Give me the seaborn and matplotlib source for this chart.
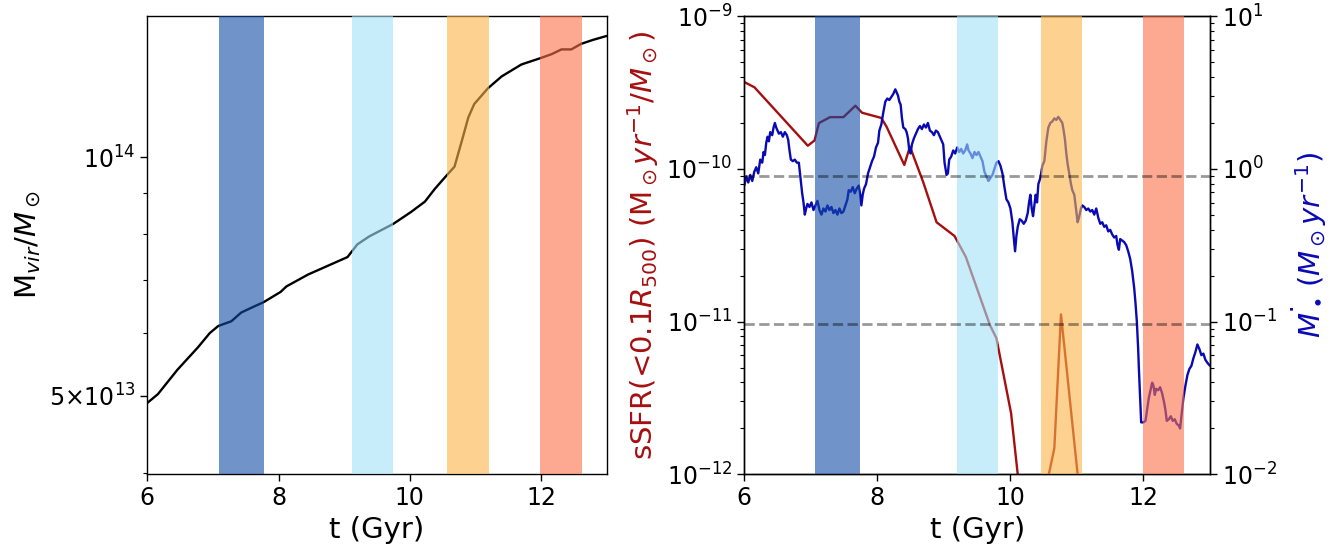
import numpy as np
import pandas as pd
import matplotlib
matplotlib.use("Agg")
import matplotlib.pyplot as plt
from matplotlib.ticker import FixedLocator, FixedFormatter, NullFormatter
import seaborn as sns

# ---- halo virial mass growth ----
t_mass = [6.00, 6.16, 6.46, 6.77, 6.95, 7.08, 7.28, 7.43, 7.61, 7.77, 8.03, 8.12,
          8.45, 8.75, 9.05, 9.20, 9.38, 9.75, 10.02, 10.23, 10.38, 10.56, 10.68,
          10.80, 10.89, 10.98, 11.19, 11.40, 11.70, 11.99, 12.16, 12.31, 12.46,
          12.61, 12.79, 13.00]
log_mvir = [13.690, 13.701, 13.732, 13.760, 13.778, 13.787, 13.793, 13.804, 13.811,
            13.817, 13.830, 13.837, 13.852, 13.863, 13.874, 13.890, 13.900, 13.916,
            13.931, 13.944, 13.960, 13.977, 13.988, 14.023, 14.050, 14.067, 14.087,
            14.102, 14.117, 14.125, 14.130, 14.136, 14.136, 14.143, 14.148, 14.153]
mass_ticks = [5e13, 1e14]
mass_tick_labels = [r"$5{\times}10^{13}$", r"$10^{14}$"]

# ---- specific star formation rate inside 0.1 R500 ----
t_ssfr = [6.00, 6.154, 6.955, 7.055, 7.122, 7.289, 7.490, 7.670, 7.770, 8.058, 8.138,
          8.405, 8.49, 8.69, 8.89, 9.16, 9.33, 9.69, 9.79, 10.01, 10.26, 10.35,
          10.45, 10.66, 10.76, 11.01, 11.10, 13.00]
log_ssfr = [-9.432, -9.467, -9.849, -9.815, -9.701, -9.662, -9.662, -9.587, -9.633,
            -9.667, -9.724, -9.975, -9.855, -10.088, -10.35, -10.44, -10.577, -11.021,
            -11.11, -11.60, -12.60, -13.0, -12.26, -11.83, -10.953, -12.0, -12.38, -13.0]

# ---- black hole accretion rate ----
t_bh = [6.00, 6.03, 6.06, 6.09, 6.12, 6.15, 6.18, 6.21, 6.24, 6.27, 6.29, 6.31, 6.33,
        6.35, 6.37, 6.39, 6.42, 6.44, 6.46, 6.48, 6.50, 6.52, 6.55, 6.58, 6.61, 6.64,
        6.66, 6.68, 6.70, 6.73, 6.76, 6.79, 6.82, 6.85, 6.87, 6.89, 6.91, 6.93, 6.95,
        6.98, 7.01, 7.04, 7.07, 7.10, 7.13, 7.16, 7.19, 7.22, 7.25, 7.28, 7.31, 7.34,
        7.37, 7.40, 7.43, 7.46, 7.49, 7.52, 7.55, 7.57, 7.60, 7.63, 7.66, 7.69, 7.72,
        7.74, 7.76, 7.78, 7.80, 7.83, 7.86, 7.89, 7.92, 7.95, 7.98, 8.01, 8.03, 8.06,
        8.09, 8.12, 8.15, 8.18, 8.21, 8.24, 8.27, 8.29, 8.31, 8.33, 8.35, 8.37, 8.39,
        8.42, 8.44, 8.46, 8.48, 8.50, 8.52, 8.55, 8.58, 8.61, 8.64, 8.67, 8.70, 8.73,
        8.76, 8.79, 8.82, 8.85, 8.88, 8.91, 8.94, 8.97, 8.99, 9.01, 9.04, 9.06, 9.08,
        9.11, 9.14, 9.17, 9.20, 9.23, 9.26, 9.29, 9.32, 9.35, 9.37, 9.40, 9.43, 9.46,
        9.49, 9.52, 9.55, 9.58, 9.61, 9.64, 9.67, 9.70, 9.73, 9.76, 9.79, 9.82, 9.85,
        9.88, 9.91, 9.94, 9.97, 10.00, 10.03, 10.05, 10.07, 10.09, 10.11, 10.14, 10.17,
        10.20, 10.23, 10.26, 10.28, 10.30, 10.32, 10.34, 10.36, 10.38, 10.40, 10.42,
        10.45, 10.48, 10.51, 10.54, 10.57, 10.60, 10.63, 10.66, 10.69, 10.72, 10.75,
        10.78, 10.80, 10.82, 10.84, 10.86, 10.88, 10.91, 10.93, 10.96, 10.99, 11.01,
        11.03, 11.06, 11.08, 11.11, 11.14, 11.17, 11.20, 11.23, 11.26, 11.29, 11.32,
        11.35, 11.38, 11.41, 11.44, 11.47, 11.50, 11.53, 11.56, 11.59, 11.61, 11.63,
        11.65, 11.68, 11.71, 11.74, 11.77, 11.80, 11.83, 11.86, 11.88, 11.90, 11.92,
        11.93, 11.95, 11.965, 12.00, 12.03, 12.06, 12.08, 12.10, 12.13, 12.15, 12.17,
        12.19, 12.22, 12.25, 12.28, 12.31, 12.33, 12.35, 12.38, 12.41, 12.44, 12.47,
        12.50, 12.53, 12.55, 12.57, 12.60, 12.63, 12.66, 12.69, 12.72, 12.75, 12.78,
        12.81, 12.84, 12.87, 12.90, 12.93, 12.96, 13.00]
log_mdot = [-0.11, -0.05, -0.09, -0.04, -0.08, -0.02, 0.01, -0.03, 0.06, 0.04, 0.11,
            0.09, 0.17, 0.21, 0.18, 0.24, 0.22, 0.27, 0.30, 0.27, 0.25, 0.23, 0.24,
            0.21, 0.24, 0.22, 0.19, 0.12, 0.06, 0.05, 0.06, 0.04, 0.04, -0.08, -0.16,
            -0.22, -0.30, -0.26, -0.23, -0.25, -0.22, -0.27, -0.24, -0.21, -0.27, -0.30,
            -0.26, -0.28, -0.24, -0.27, -0.25, -0.29, -0.27, -0.30, -0.26, -0.29, -0.28,
            -0.24, -0.20, -0.14, -0.15, -0.12, -0.16, -0.13, -0.11, -0.16, -0.24, -0.17,
            -0.13, -0.10, -0.03, 0.01, 0.05, 0.08, 0.14, 0.17, 0.25, 0.29, 0.37, 0.44,
            0.46, 0.45, 0.47, 0.49, 0.52, 0.50, 0.48, 0.44, 0.42, 0.33, 0.27, 0.26, 0.24,
            0.20, 0.12, 0.10, 0.16, 0.20, 0.23, 0.26, 0.28, 0.26, 0.29, 0.27, 0.30, 0.25,
            0.24, 0.22, 0.25, 0.24, 0.21, 0.18, 0.16, 0.04, -0.04, -0.03, 0.06, 0.08,
            0.12, 0.10, 0.14, 0.11, 0.13, 0.10, 0.12, 0.16, 0.12, 0.10, 0.07, 0.11, 0.09,
            0.11, 0.08, 0.05, -0.02, -0.05, -0.08, -0.06, -0.04, 0.00, 0.04, 0.05, 0.02,
            -0.03, -0.12, -0.20, -0.22, -0.26, -0.35, -0.45, -0.54, -0.44, -0.38, -0.33,
            -0.34, -0.36, -0.34, -0.29, -0.22, -0.17, -0.26, -0.31, -0.24, -0.17, -0.22,
            -0.10, -0.06, 0.02, 0.05, 0.18, 0.27, 0.30, 0.31, 0.33, 0.32, 0.34, 0.32,
            0.30, 0.25, 0.19, 0.10, 0.03, -0.02, -0.10, -0.14, -0.17, -0.28, -0.35,
            -0.32, -0.26, -0.24, -0.25, -0.27, -0.26, -0.28, -0.27, -0.30, -0.26, -0.32,
            -0.36, -0.35, -0.38, -0.37, -0.41, -0.40, -0.43, -0.45, -0.44, -0.50, -0.53,
            -0.46, -0.47, -0.48, -0.50, -0.54, -0.59, -0.67, -0.78, -0.88, -1.00, -1.18,
            -1.30, -1.50, -1.66, -1.66, -1.65, -1.56, -1.50, -1.46, -1.40, -1.42, -1.48,
            -1.44, -1.45, -1.43, -1.47, -1.53, -1.58, -1.65, -1.64, -1.62, -1.65, -1.64,
            -1.67, -1.68, -1.70, -1.62, -1.50, -1.42, -1.35, -1.31, -1.29, -1.24, -1.20,
            -1.15, -1.18, -1.22, -1.21, -1.25, -1.27, -1.29]

# ---- highlighted epochs (start, end in Gyr) ----
epochs_left = [(7.085, 7.77), (9.12, 9.75), (10.56, 11.20), (11.99, 12.62)]
epochs_right = [(7.07, 7.74), (9.19, 9.82), (10.46, 11.08), (11.99, 12.61)]
epoch_colors = ["#114ba5", "#a3e2f8", "#fdb548", "#fd7049"]

# reference accretion levels (Msun/yr)
mdot_levels = [0.9, 0.096]

sns.set_style("ticks")
plt.rcParams["font.family"] = ["DejaVu Sans"]
plt.rcParams["mathtext.fontset"] = "dejavusans"

RED = "#a50f0f"
BLUE = "#0a0ab4"
TICK_FS = 17
LAB_FS = 21
LW = 1.7

fig = plt.figure(figsize=(13.3, 5.45), dpi=100)
ax1 = fig.add_axes([0.1108, 0.1297, 0.3454, 0.8409])
ax2 = fig.add_axes([0.5596, 0.1297, 0.3502, 0.8409])

# left panel: virial mass
df_m = pd.DataFrame({"t": t_mass, "mvir": np.power(10.0, log_mvir)})
sns.lineplot(data=df_m, x="t", y="mvir", ax=ax1, color="black", lw=LW, zorder=2)
ax1.set_yscale("log")
ax1.set_xlim(6, 13)
ax1.set_ylim(3.98e13, 1.507e14)
ax1.yaxis.set_major_locator(FixedLocator(mass_ticks))
ax1.yaxis.set_major_formatter(FixedFormatter(mass_tick_labels))
ax1.yaxis.set_minor_locator(FixedLocator([4e13, 6e13, 7e13, 8e13, 9e13]))
ax1.yaxis.set_minor_formatter(NullFormatter())
for (a, b), c in zip(epochs_left, epoch_colors):
    ax1.axvspan(a, b, color=c, alpha=0.6, lw=0, zorder=3)
ax1.set_xlabel("t (Gyr)", fontsize=LAB_FS)
ax1.set_ylabel(r"M$_{vir}/M_\odot$", fontsize=LAB_FS)
ax1.set_xticks([6, 8, 10, 12])

# right panel: sSFR (left axis) and BH accretion rate (right axis)
df_s = pd.DataFrame({"t": t_ssfr, "ssfr": np.power(10.0, log_ssfr)})
sns.lineplot(data=df_s, x="t", y="ssfr", ax=ax2, color=RED, lw=LW, zorder=2)
ax2.set_yscale("log")
ax2.set_xlim(6, 13)
ax2.set_ylim(1e-12, 1e-9)
ax2.set_xticks([6, 8, 10, 12])
ax2.set_xlabel("t (Gyr)", fontsize=LAB_FS)
ax2.set_ylabel(r"sSFR(<0.1$R_{500}$) (M$_\odot yr^{-1}/M_\odot$)",
               fontsize=LAB_FS, color=RED)

ax3 = ax2.twinx()
df_b = pd.DataFrame({"t": t_bh, "mdot": np.power(10.0, log_mdot)})
sns.lineplot(data=df_b, x="t", y="mdot", ax=ax3, color=BLUE, lw=LW, zorder=2)
ax3.set_yscale("log")
ax3.set_ylim(1e-2, 1e1)
ax3.set_xlim(6, 13)
ax3.set_xlabel("")
for (a, b), c in zip(epochs_right, epoch_colors):
    ax3.axvspan(a, b, color=c, alpha=0.6, lw=0, zorder=3)
for lev in mdot_levels:
    ax3.axhline(lev, color="black", ls="--", lw=2, alpha=0.4, zorder=4)
ax3.set_ylabel(r"$\dot{M_\bullet}\,(M_\odot yr^{-1})$", fontsize=LAB_FS, color=BLUE,
               labelpad=9)

for ax in (ax1, ax2, ax3):
    ax.tick_params(axis="both", which="major", labelsize=TICK_FS, length=5,
                   width=1, direction="out", colors="black")
    ax.tick_params(axis="both", which="minor", length=3, width=0.8, colors="black")
    for sp in ax.spines.values():
        sp.set_visible(True)
        sp.set_color("black")
        sp.set_linewidth(1.0)
ax1.xaxis.label.set_color("black")
ax1.yaxis.label.set_color("black")
ax2.xaxis.label.set_color("black")

fig.savefig("out.png", dpi=100)
